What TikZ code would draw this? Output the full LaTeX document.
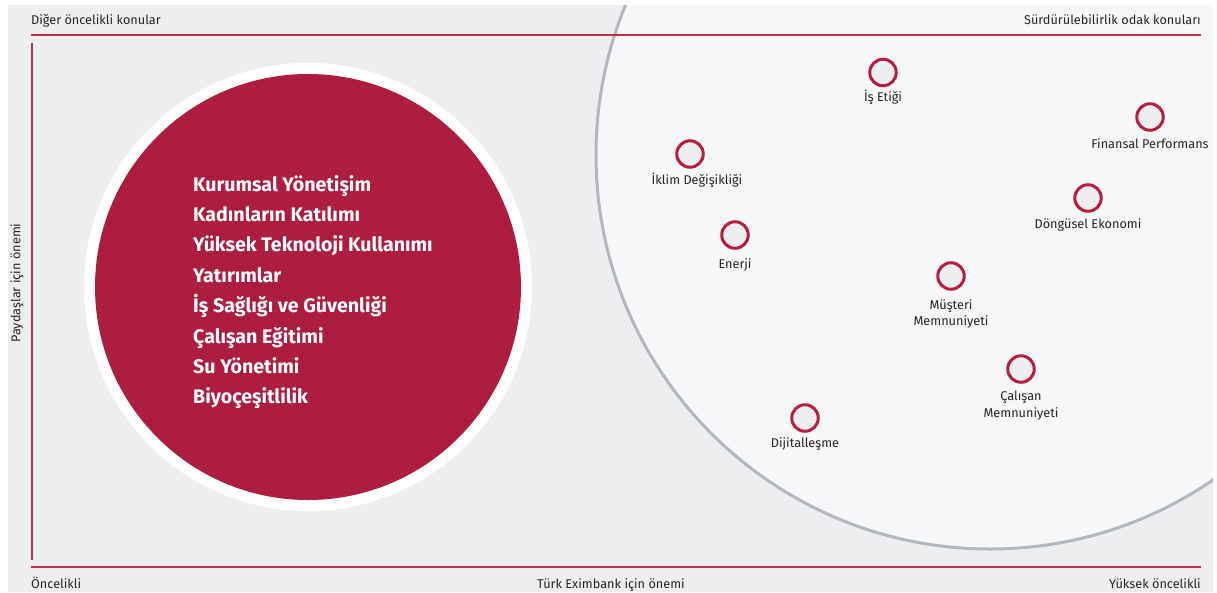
\documentclass[tikz,border=0pt]{standalone}
\usepackage{fontspec}
\setmainfont{Fira Sans}
\definecolor{bgray}{HTML}{EDEEF0}
\definecolor{cfill}{HTML}{F6F7F8}
\definecolor{cline}{HTML}{B4B8BC}
\definecolor{bigred}{HTML}{AD1D40}
\definecolor{axred}{HTML}{C22E4B}
\definecolor{dotred}{HTML}{B71E3F}
\definecolor{txt}{HTML}{262626}
\tikzset{
  axisline/.style={axred, line width=2pt},
  dot/.style={circle, draw=dotred, line width=3pt, fill=bgray, minimum size=26.5pt, inner sep=0pt},
  lbl/.style={text=txt, font=\fontsize{12.7}{16.5}\selectfont, inner sep=0pt},
  big/.style={text=white, font=\fontsize{19.6}{24}\selectfont\bfseries, inner sep=0pt, anchor=base west},
}
\begin{document}
\begin{tikzpicture}[x=1pt,y=-1pt]
\useasboundingbox (0,0) rectangle (1217,592);
\fill[white] (0,0) rectangle (1217,592);
\fill[bgray] (8,5) rectangle (1213,592);
\begin{scope}
  \clip (8,5) rectangle (1213,592);
  \fill[cfill, draw=cline, line width=3pt] (990,155) circle[radius=394pt];
\end{scope}
% axes
\draw[axisline] (31,35) -- (1201,35);
\draw[axisline] (32,43) -- (32,560);
\draw[axisline] (31,567) -- (1201,567);
% axis labels
\node[lbl, anchor=base west] (tl) at (31,24.5) {Diğer öncelikli konular};
\node[lbl, anchor=base east] (tr) at (1201,24.5) {Sürdürülebilirlik odak konuları};
\node[lbl, anchor=base west] (bl) at (31,588) {Öncelikli};
\node[lbl, anchor=base] (bc) at (611,588) {Türk Eximbank için önemi};
\node[lbl, anchor=base east] (br) at (1201,588) {Yüksek öncelikli};
\node[lbl, rotate=90, anchor=center] (ly) at (17,283) {Paydaşlar için önemi};
% big red circle
\fill[white] (308,287) circle[radius=224pt];
\fill[bigred] (308,287) circle[radius=213pt];
\node[big] (b1) at (193,191) {Kurumsal Yönetişim};
\node[big] (b2) at (193,221.4) {Kadınların Katılımı};
\node[big] (b3) at (193,251.8) {Yüksek Teknoloji Kullanımı};
\node[big] (b4) at (193,282.2) {Yatırımlar};
\node[big] (b5) at (193,312.6) {İş Sağlığı ve Güvenliği};
\node[big] (b6) at (193,343) {Çalışan Eğitimi};
\node[big] (b7) at (193,373.4) {Su Yönetimi};
\node[big] (b8) at (193,403.8) {Biyoçeşitlilik};
% small topics
\node[dot] (d1) at (883,72.5) {};
\node[lbl, anchor=base] (t1) at (883,101) {İş Etiği};
\node[dot] (d2) at (1150,117) {};
\node[lbl, anchor=base] (t2) at (1150,148) {Finansal Performans};
\node[dot] (d3) at (690,154) {};
\node[lbl, anchor=base] (t3) at (697,184) {İklim Değişikliği};
\node[dot] (d4) at (1088,198) {};
\node[lbl, anchor=base] (t4) at (1088,228) {Döngüsel Ekonomi};
\node[dot] (d5) at (735,235) {};
\node[lbl, anchor=base] (t5) at (735,268) {Enerji};
\node[dot] (d6) at (951,276) {};
\node[lbl, anchor=north, align=center] (t6) at (951,299) {Müşteri\\Memnuniyeti};
\node[dot] (d7) at (1021,369) {};
\node[lbl, anchor=north, align=center] (t7) at (1021,391) {Çalışan\\Memnuniyeti};
\node[dot] (d8) at (805,418) {};
\node[lbl, anchor=base] (t8) at (805,447) {Dijitalleşme};
\end{tikzpicture}
\end{document}
